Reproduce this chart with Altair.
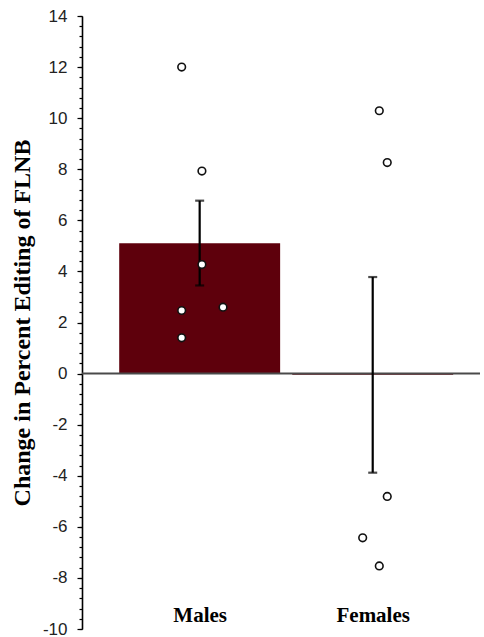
import altair as alt
import pandas as pd

# Group summary: position on the x axis, mean change, and error-bar limits
categories = ["Males", "Females"]
cat_pos = [0, 1]
bar_means = [5.1, -0.05]
err_low = [3.45, -3.88]
err_high = [6.77, 3.78]

# Individual animals (value, horizontal jitter in category units)
male_vals = [12.0, 7.93, 4.27, 2.47, 2.6, 1.4]
male_jit = [-0.104, 0.013, 0.013, -0.104, 0.135, -0.104]
female_vals = [10.29, 8.26, -4.81, -6.43, -7.53]
female_jit = [0.038, 0.084, 0.084, -0.058, 0.038]

BAR_HALF = 0.465
BAR_COLOR = "#5E000C"

summary = pd.DataFrame({
    "group": categories,
    "pos": cat_pos,
    "mean": bar_means,
    "lo": err_low,
    "hi": err_high,
})
summary["left"] = summary["pos"] - BAR_HALF
summary["right"] = summary["pos"] + BAR_HALF

points = pd.DataFrame({
    "group": ["Males"] * len(male_vals) + ["Females"] * len(female_vals),
    "value": male_vals + female_vals,
    "x": [cat_pos[0] + j for j in male_jit] + [cat_pos[1] + j for j in female_jit],
})

x_scale = alt.Scale(domain=[-0.68, 1.62], nice=False, zero=False)
y_scale = alt.Scale(domain=[-10, 14], nice=False, zero=False)

# major ticks every 2 (labelled), minor ticks every 0.4
major_ticks = list(range(-10, 15, 2))
minor_ticks = [round(-10 + 0.4 * i, 1) for i in range(61)]

label_expr = " : ".join(
    f"datum.value == {p} ? '{c}'" for p, c in zip(cat_pos, categories)
) + " : ''"

x_axis = alt.Axis(
    values=cat_pos,
    labelExpr=label_expr,
    domain=False,
    ticks=False,
    grid=False,
    title=None,
    labelFont="Liberation Serif",
    labelFontWeight="bold",
    labelFontSize=21,
    labelColor="#000000",
    labelPadding=0,
    offset=-25,
)

y_axis_major = alt.Axis(
    orient="left",
    values=major_ticks,
    labelExpr="'' + datum.value",
    labelOverlap=False,
    tickSize=5,
    tickColor="#000000",
    tickWidth=1.2,
    domainColor="#000000",
    domainWidth=1.6,
    grid=False,
    labelFont="Liberation Sans",
    labelFontSize=17,
    labelColor="#222222",
    labelPadding=10,
    title="Change in Percent Editing of FLNB",
    titleFont="Liberation Serif",
    titleFontWeight="bold",
    titleFontSize=24,
    titleColor="#000000",
    titlePadding=8,
)

y_axis_minor = alt.Axis(
    orient="left",
    values=minor_ticks,
    labels=False,
    domain=False,
    grid=False,
    tickSize=3,
    tickColor="#000000",
    tickWidth=1.2,
    title=None,
)

base_summary = alt.Chart(summary)

bars = base_summary.mark_bar(color=BAR_COLOR).encode(
    x=alt.X("left:Q", scale=x_scale, axis=x_axis),
    x2="right:Q",
    y=alt.Y("mean:Q", scale=y_scale, axis=y_axis_major),
    y2=alt.datum(0),
)

# horizontal line at zero across the whole plot; carries the minor ticks
zero_line = alt.Chart(pd.DataFrame({"zero": [0]})).mark_rule(
    color="#4a4a4a", strokeWidth=2
).encode(
    y=alt.Y("zero:Q", scale=y_scale, axis=y_axis_minor),
    x=alt.value(0),
    x2=alt.value(398),
)

err_rule = base_summary.mark_rule(color="#000000", strokeWidth=2.2).encode(
    x=alt.X("pos:Q", scale=x_scale),
    y=alt.Y("lo:Q", scale=y_scale, axis=None),
    y2="hi:Q",
)

cap_hi = base_summary.mark_tick(color="#000000", orient="horizontal", size=9, thickness=2.2).encode(
    x=alt.X("pos:Q", scale=x_scale),
    y=alt.Y("hi:Q", scale=y_scale, axis=None),
)
cap_lo = base_summary.mark_tick(color="#000000", orient="horizontal", size=9, thickness=2.2).encode(
    x=alt.X("pos:Q", scale=x_scale),
    y=alt.Y("lo:Q", scale=y_scale, axis=None),
)

dots = alt.Chart(points).mark_point(
    shape="circle", filled=False, fill="#ffffff", fillOpacity=1,
    stroke="#111111", strokeWidth=1.6, size=58, opacity=1,
).encode(
    x=alt.X("x:Q", scale=x_scale),
    y=alt.Y("value:Q", scale=y_scale, axis=None),
)

chart = alt.layer(bars, zero_line, err_rule, cap_hi, cap_lo, dots).resolve_axis(
    y="independent"
).properties(
    width=398,
    height=613,
    autosize=alt.AutoSizeParams(type="none"),
    padding={"left": 82, "top": 16, "right": 4, "bottom": 8},
    background="#ffffff",
).configure_view(stroke=None)

chart.save("out.html", embed_options={"renderer": "svg", "actions": False})
